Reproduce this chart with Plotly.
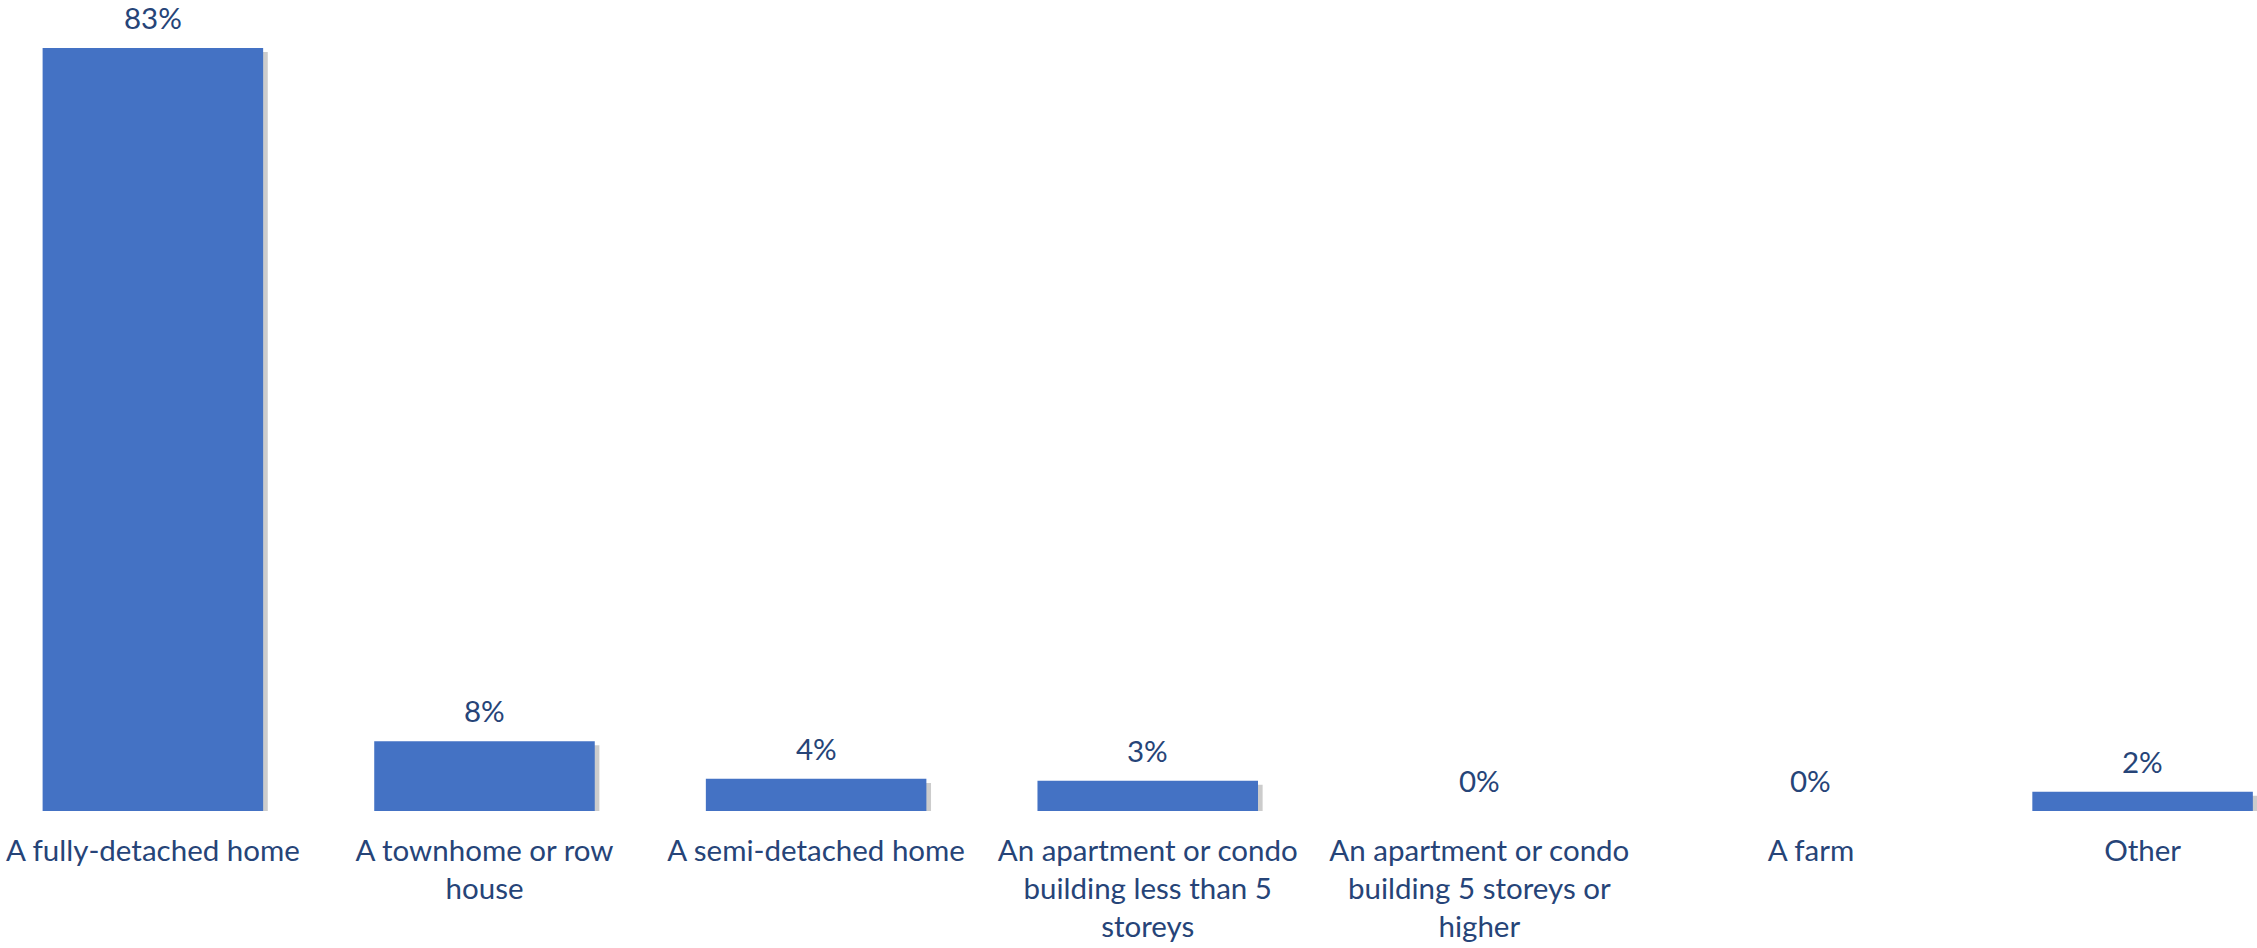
import plotly.graph_objects as go

categories = [
    "A fully-detached home",
    "A townhome or row<br>house",
    "A semi-detached home",
    "An apartment or condo<br>building less than 5<br>storeys",
    "An apartment or condo<br>building 5 storeys or<br>higher",
    "A farm",
    "Other",
]
values = [83, 7.6, 3.5, 3.3, 0, 0, 2.1]

BAR_COLOR = "#4472C4"
TEXT_COLOR = "#264478"
FONT = "Lato"
BAR_WIDTH = 0.665

x_idx = list(range(len(categories)))

fig = go.Figure()

# soft drop shadow behind bars (Excel style)
fig.add_trace(go.Bar(
    x=x_idx, y=values, base=[-0.45] * len(values),
    width=BAR_WIDTH, offset=-BAR_WIDTH / 2 + 0.014,
    marker=dict(color="rgba(0,0,0,0.2)", line=dict(width=0)),
    hoverinfo="skip", showlegend=False,
))
fig.add_trace(go.Bar(
    x=x_idx, y=values,
    width=BAR_WIDTH, offset=-BAR_WIDTH / 2,
    marker=dict(color=BAR_COLOR, line=dict(width=0)),
    showlegend=False,
))

for i, v in zip(x_idx, values):
    fig.add_annotation(
        x=i, y=v, text=f"{v:.0f}%", showarrow=False,
        yanchor="bottom", yshift=11,
        font=dict(family=FONT, size=29.5, color=TEXT_COLOR),
    )

fig.update_layout(
    width=2257, height=948, autosize=False,
    margin=dict(l=0, r=0, t=0, b=137),
    paper_bgcolor="white", plot_bgcolor="white",
    barmode="overlay",
    xaxis=dict(
        range=[-0.461, 6.345],
        tickmode="array", tickvals=x_idx, ticktext=categories,
        showgrid=False, zeroline=False, showline=False,
        ticks="", ticklabelstandoff=19, ticklabeloverflow="allow",
        tickfont=dict(family=FONT, size=29.5, color=TEXT_COLOR),
    ),
    yaxis=dict(
        range=[0, 88.22], visible=False, showgrid=False, zeroline=False,
    ),
)

fig.write_html(
    "out.html",
    config={"displayModeBar": False},
    post_script="document.body.style.margin='0';document.body.style.overflow='hidden';",
)
